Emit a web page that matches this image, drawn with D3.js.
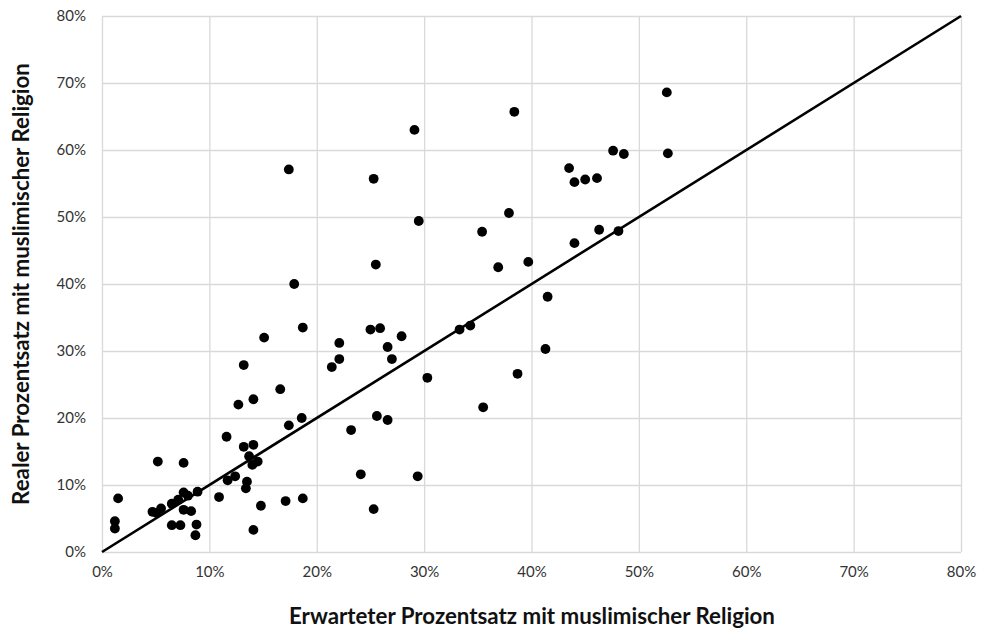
<!DOCTYPE html>
<html>
<head>
<meta charset="utf-8">
<script src="https://cdn.jsdelivr.net/npm/d3@7"></script>
<style>
  body { margin: 0; background: #fff; }
  svg text { font-family: Lato, "Open Sans", sans-serif; }
</style>
</head>
<body>
<div id="chart"></div>
<script>
// expected share (x) and real share (y), in percent
const expected = [1.2, 1.2, 1.5, 4.7, 5.1, 5.5, 5.2, 6.5, 7.1, 7.6, 8.0, 8.9, 7.6, 8.3, 6.5, 7.3, 8.8, 8.7, 7.6, 10.9,
  11.7, 12.4, 13.5, 13.4, 13.7, 14.0, 14.5, 13.2, 14.1, 11.6, 12.7, 14.1, 14.8, 14.1, 17.1, 18.7, 17.4, 18.6, 13.2, 15.1,
  16.6, 17.9, 18.7, 17.4, 21.4, 22.1, 22.1, 23.2, 24.1, 25.3, 25.6, 26.6, 25.0, 25.9, 26.6, 27.0, 27.9, 25.3, 25.5, 29.1,
  29.5, 29.4, 30.3, 33.3, 34.3, 35.4, 35.5, 36.9, 37.9, 38.4, 38.7, 39.7, 41.3, 41.5, 43.5, 44.0, 45.0, 46.1, 44.0, 46.3,
  48.1, 47.6, 48.6, 52.6, 52.7];
const real = [3.5, 4.6, 8.0, 6.0, 5.8, 6.5, 13.5, 7.2, 7.8, 8.9, 8.4, 9.0, 6.3, 6.1, 4.0, 4.0, 4.1, 2.5, 13.3, 8.2,
  10.7, 11.3, 10.5, 9.5, 14.3, 13.0, 13.5, 15.7, 16.0, 17.2, 22.0, 22.8, 6.9, 3.3, 7.6, 8.0, 18.9, 20.0, 27.9, 32.0,
  24.3, 40.0, 33.5, 57.1, 27.6, 28.8, 31.2, 18.2, 11.6, 6.4, 20.3, 19.7, 33.2, 33.4, 30.6, 28.8, 32.2, 55.7, 42.9, 63.0,
  49.4, 11.3, 26.0, 33.2, 33.8, 47.8, 21.6, 42.5, 50.6, 65.7, 26.6, 43.3, 30.3, 38.1, 57.3, 55.2, 55.6, 55.8, 46.1, 48.1,
  47.9, 59.9, 59.4, 68.6, 59.5];
const ticks = [0, 10, 20, 30, 40, 50, 60, 70, 80];
const diagonal = [0, 80];

const w = 985, h = 632;
const plotLeft = 102, plotRight = 961, plotTop = 16, plotBottom = 552;

const points = expected.map((x, i) => ({ x: x, y: real[i] }));

const xScale = d3.scaleLinear().domain([0, 80]).range([plotLeft, plotRight]);
const yScale = d3.scaleLinear().domain([0, 80]).range([plotBottom, plotTop]);

const svg = d3.select('#chart')
  .append('svg')
  .attr('width', w)
  .attr('height', h);

// gridlines
const xAxis = d3.axisBottom(xScale)
  .tickValues(ticks)
  .tickSize(-(plotBottom - plotTop))
  .tickPadding(14)
  .tickFormat(d => d + '%');
const yAxis = d3.axisLeft(yScale)
  .tickValues(ticks)
  .tickSize(-(plotRight - plotLeft))
  .tickPadding(16)
  .tickFormat(d => d + '%');

const gx = svg.append('g')
  .attr('transform', 'translate(0,' + plotBottom + ')')
  .call(xAxis);
const gy = svg.append('g')
  .attr('transform', 'translate(' + plotLeft + ',0)')
  .call(yAxis);

[gx, gy].forEach(g => {
  g.select('.domain').remove();
  g.selectAll('line').attr('stroke', '#d9d9d9').attr('stroke-width', 1.3);
  g.selectAll('text').attr('fill', '#333').style('font-size', '15px');
});

svg.append('line')
  .attr('x1', xScale(diagonal[0]))
  .attr('y1', yScale(diagonal[0]))
  .attr('x2', xScale(diagonal[1]))
  .attr('y2', yScale(diagonal[1]))
  .attr('stroke', '#000')
  .attr('stroke-width', 2.6);

svg.selectAll('circle')
  .data(points)
  .enter()
  .append('circle')
  .attr('cx', d => xScale(d.x))
  .attr('cy', d => yScale(d.y))
  .attr('r', 4.9)
  .attr('fill', '#000');

svg.append('text')
  .attr('x', 532)
  .attr('y', 624)
  .attr('text-anchor', 'middle')
  .style('font-size', '22.3px')
  .style('font-weight', 'bold')
  .attr('fill', '#111')
  .text('Erwarteter Prozentsatz mit muslimischer Religion');

svg.append('text')
  .attr('transform', 'translate(29,284) rotate(-90)')
  .attr('text-anchor', 'middle')
  .style('font-size', '22.3px')
  .style('font-weight', 'bold')
  .attr('fill', '#111')
  .text('Realer Prozentsatz mit muslimischer Religion');
</script>
</body>
</html>
